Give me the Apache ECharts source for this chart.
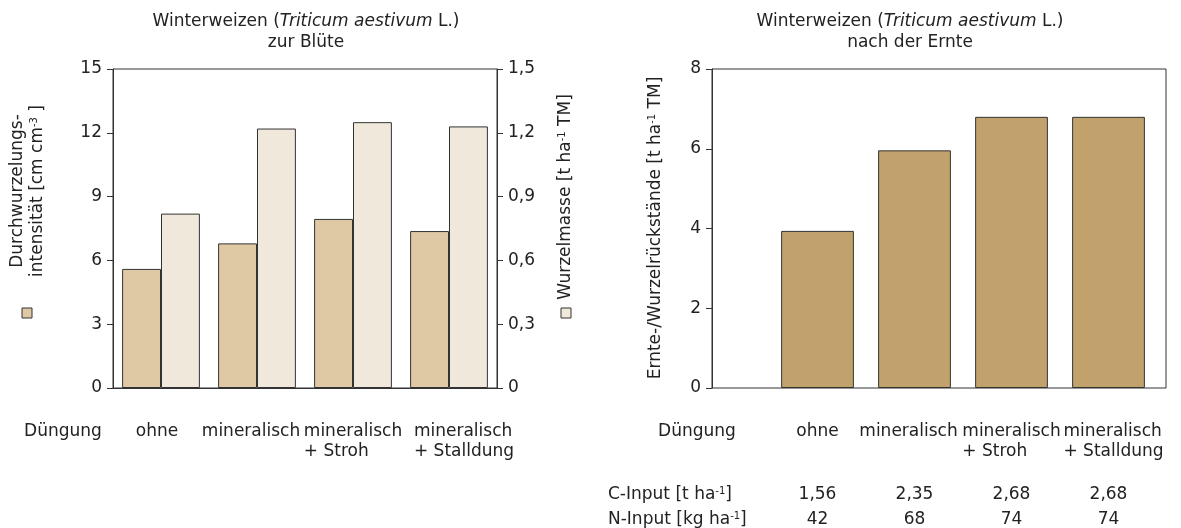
<!DOCTYPE html>
<html>
<head>
<meta charset="utf-8">
<script src="https://cdn.jsdelivr.net/npm/echarts@6/dist/echarts.min.js"></script>
<style>
html,body{margin:0;padding:0;background:#fff;}
#c{width:1181px;height:528px;}
</style>
</head>
<body>
<div id="c"></div>
<script>
const categories = ['ohne', 'mineralisch', 'mineralisch\n+ Stroh', 'mineralisch\n+ Stalldung'];
const durchwurzelung = [5.6, 6.8, 7.95, 7.38];
const wurzelmasse = [0.82, 1.22, 1.25, 1.23];
const rueckstaende = [3.94, 5.96, 6.8, 6.8];
const cInput = ['1,56', '2,35', '2,68', '2,68'];
const nInput = ['42', '68', '74', '74'];

const FONT = 'DejaVu Sans';
const FS = 17;
const TXT = '#222';
const LINE = '#333';
const TAN = '#dfc8a4';
const LIGHT = '#efe8db';
const BROWN = '#c2a26c';

const comma = v => String(v).replace('.', ',');

function yAx(gridIndex, pos, min, max, interval) {
  return {
    type: 'value', gridIndex, position: pos, min, max, interval,
    axisLine: {show: true, lineStyle: {color: LINE, width: 1}},
    axisTick: {show: true, inside: false, length: 6, lineStyle: {color: LINE}},
    splitLine: {show: false},
    axisLabel: {margin: 11, fontFamily: FONT, fontSize: FS, color: TXT, formatter: v => comma(v)}
  };
}

// two-line category labels: lines left-aligned with each other
const catLabel = v => v.split('\n').map(s => '{l|' + s + '}').join('\n');
function catData(pads) {
  return categories.map((c, i) => pads[i] ? {value: c, textStyle: {padding: pads[i]}} : c);
}

const sup = {fontFamily: FONT, fontSize: 10, color: TXT, verticalAlign: 'top'};
const base = {fontFamily: FONT, fontSize: FS, color: TXT};
const ital = {fontFamily: FONT, fontSize: FS, color: TXT, fontStyle: 'italic'};

function txt(x, y, text, opts) {
  opts = opts || {};
  return {
    type: 'text', x, y, rotation: opts.rot || 0,
    style: Object.assign({
      text, fontFamily: FONT, fontSize: FS, fill: TXT,
      align: opts.align || 'center', verticalAlign: 'middle',
      rich: {s: sup, i: ital, b: base}
    }, opts.style || {})
  };
}

const catAxisLabel = {
  interval: 0, margin: 34, fontFamily: FONT, fontSize: FS, color: TXT, lineHeight: 20,
  formatter: catLabel,
  rich: {l: {fontFamily: FONT, fontSize: FS, color: TXT, align: 'left', lineHeight: 20}}
};

const chart = echarts.init(document.getElementById('c'), null, {renderer: 'canvas'});
chart.setOption({
  animation: false,
  backgroundColor: '#fff',
  grid: [
    {left: 113, top: 69, width: 384, height: 319, show: true, borderColor: LINE, borderWidth: 1, backgroundColor: 'transparent'},
    {left: 712, top: 69, width: 454, height: 319, show: true, borderColor: LINE, borderWidth: 1, backgroundColor: 'transparent'},
    {left: 769, top: 69, width: 388, height: 319, show: false}
  ],
  xAxis: [
    {type: 'category', gridIndex: 0, position: 'bottom',
     data: catData([[0, 8, 0, 0], [0, 12, 0, 0], 0, [0, 0, 0, 30]]),
     axisLine: {show: true, lineStyle: {color: LINE}}, axisTick: {show: false},
     axisLabel: catAxisLabel},
    {type: 'value', gridIndex: 1, min: 0, max: 1, show: false},
    {type: 'category', gridIndex: 2, position: 'bottom',
     data: catData([0, [0, 12, 0, 0], 0, [0, 0, 0, 10]]),
     axisLine: {show: false}, axisTick: {show: false},
     axisLabel: catAxisLabel},
    {type: 'category', gridIndex: 2, position: 'bottom', data: cInput,
     axisLine: {show: false}, axisTick: {show: false},
     axisLabel: {interval: 0, margin: 98, fontFamily: FONT, fontSize: FS, color: TXT}},
    {type: 'category', gridIndex: 2, position: 'bottom', data: nInput,
     axisLine: {show: false}, axisTick: {show: false},
     axisLabel: {interval: 0, margin: 123, fontFamily: FONT, fontSize: FS, color: TXT}}
  ],
  yAxis: [
    yAx(0, 'left', 0, 15, 3),
    yAx(0, 'right', 0, 1.5, 0.3),
    yAx(1, 'left', 0, 8, 2),
    {type: 'value', gridIndex: 2, min: 0, max: 8, show: false}
  ],
  series: [
    {type: 'bar', xAxisIndex: 0, yAxisIndex: 0, data: durchwurzelung, barGap: '0%', barCategoryGap: '19%',
     itemStyle: {color: TAN, borderColor: LINE, borderWidth: 1}},
    {type: 'bar', xAxisIndex: 0, yAxisIndex: 1, data: wurzelmasse, barGap: '0%', barCategoryGap: '19%',
     itemStyle: {color: LIGHT, borderColor: LINE, borderWidth: 1}},
    {type: 'bar', xAxisIndex: 2, yAxisIndex: 3, data: rueckstaende, barCategoryGap: '25%',
     itemStyle: {color: BROWN, borderColor: LINE, borderWidth: 1}}
  ],
  graphic: [
    txt(306, 22, '{b|Winterweizen (}{i|Triticum aestivum}{b| L.)}'),
    txt(306, 43, 'zur Blüte'),
    txt(910, 22, '{b|Winterweizen (}{i|Triticum aestivum}{b| L.)}'),
    txt(910, 43, 'nach der Ernte'),
    txt(63, 432, 'Düngung'),
    txt(697, 432, 'Düngung'),
    txt(18, 191, 'Durchwurzelungs-', {rot: Math.PI / 2}),
    txt(38, 191, '{b|intensität [cm cm}{s|-3}{b| ]}', {rot: Math.PI / 2}),
    txt(566, 197, '{b|Wurzelmasse [t ha}{s|-1}{b| TM]}', {rot: Math.PI / 2}),
    txt(656, 228, '{b|Ernte-/Wurzelrückstände [t ha}{s|-1}{b| TM]}', {rot: Math.PI / 2}),
    txt(608, 495, '{b|C-Input [t ha}{s|-1}{b|]}', {align: 'left'}),
    txt(608, 520, '{b|N-Input [kg ha}{s|-1}{b|]}', {align: 'left'}),
    {type: 'rect', shape: {x: 22, y: 308, width: 10, height: 10}, style: {fill: TAN, stroke: LINE, lineWidth: 1}},
    {type: 'rect', shape: {x: 561, y: 308, width: 10, height: 10}, style: {fill: LIGHT, stroke: LINE, lineWidth: 1}}
  ]
});
</script>
</body>
</html>
